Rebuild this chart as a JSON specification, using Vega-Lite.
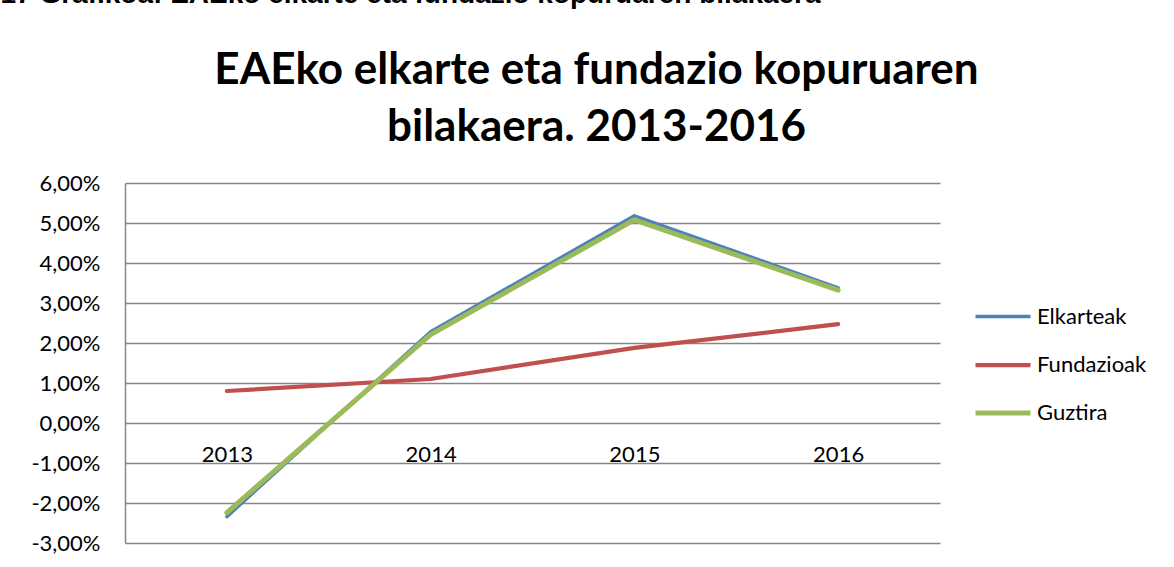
{
  "$schema": "https://vega.github.io/schema/vega-lite/v6.json",
  "width": 815,
  "height": 360,
  "autosize": {"type": "none"},
  "padding": {"left": 125, "top": 183, "right": 234, "bottom": 24},
  "background": "white",
  "config": {
    "locale": {"number": {"decimal": ",", "thousands": ".", "grouping": [3], "currency": ["", "€"], "minus": "-"}},
    "view": {"stroke": null},
    "font": "Lato"
  },
  "title": {
    "text": ["EAEko elkarte eta fundazio kopuruaren", "bilakaera. 2013-2016"],
    "font": "Lato",
    "fontSize": 44,
    "fontWeight": "bold",
    "color": "#000000",
    "anchor": "middle",
    "dx": 64,
    "lineHeight": 57,
    "offset": -170
  },
  "data": {
    "values": [
      {"urtea": "2013", "saila": "Elkarteak", "balioa": -0.0234},
      {"urtea": "2014", "saila": "Elkarteak", "balioa": 0.0228},
      {"urtea": "2015", "saila": "Elkarteak", "balioa": 0.0518},
      {"urtea": "2016", "saila": "Elkarteak", "balioa": 0.0338},
      {"urtea": "2013", "saila": "Fundazioak", "balioa": 0.0080},
      {"urtea": "2014", "saila": "Fundazioak", "balioa": 0.0110},
      {"urtea": "2015", "saila": "Fundazioak", "balioa": 0.0188},
      {"urtea": "2016", "saila": "Fundazioak", "balioa": 0.0247},
      {"urtea": "2013", "saila": "Guztira", "balioa": -0.0224},
      {"urtea": "2014", "saila": "Guztira", "balioa": 0.0221},
      {"urtea": "2015", "saila": "Guztira", "balioa": 0.0508},
      {"urtea": "2016", "saila": "Guztira", "balioa": 0.0332}
    ]
  },
  "mark": {"type": "line", "strokeCap": "round", "strokeJoin": "round"},
  "encoding": {
    "x": {
      "field": "urtea",
      "type": "ordinal",
      "scale": {"type": "point", "padding": 0.5},
      "axis": {
        "orient": "bottom",
        "offset": -120,
        "labelAngle": 0,
        "labelFontSize": 22,
        "labelColor": "#000000",
        "labelPadding": 21,
        "ticks": false,
        "domain": false,
        "grid": false,
        "title": null
      }
    },
    "y": {
      "field": "balioa",
      "type": "quantitative",
      "scale": {"domain": [-0.03, 0.06], "nice": false, "zero": false},
      "axis": {
        "values": [-0.03, -0.02, -0.01, 0, 0.01, 0.02, 0.03, 0.04, 0.05, 0.06],
        "format": ".2%",
        "labelFontSize": 22,
        "labelColor": "#000000",
        "labelPadding": 25,
        "ticks": false,
        "domain": true,
        "domainColor": "#868686",
        "domainWidth": 1.5,
        "grid": true,
        "gridColor": "#868686",
        "gridWidth": 1.5,
        "title": "17 Grafikoa: EAEko elkarte eta fundazio kopuruaren bilakaera",
        "titleAngle": 0,
        "titleX": -125,
        "titleY": -181,
        "titleAlign": "left",
        "titleBaseline": "alphabetic",
        "titleFont": "Liberation Sans",
        "titleFontSize": 28,
        "titleFontWeight": "bold",
        "titleColor": "#000000"
      }
    },
    "color": {
      "field": "saila",
      "type": "nominal",
      "scale": {"domain": ["Elkarteak", "Fundazioak", "Guztira"], "range": ["#4F81BD", "#C0504D", "#9BBB59"]},
      "legend": {
        "orient": "none",
        "legendX": 848,
        "legendY": 104,
        "title": null,
        "symbolType": "stroke",
        "symbolSize": 3025,
        "symbolStrokeWidth": 5,
        "labelFontSize": 22,
        "labelColor": "#000000",
        "labelOffset": 4,
        "rowPadding": 7,
        "padding": 0
      }
    },
    "strokeWidth": {
      "field": "saila",
      "type": "nominal",
      "scale": {"domain": ["Elkarteak", "Fundazioak", "Guztira"], "range": [3.5, 5, 6]},
      "legend": null
    }
  }
}
